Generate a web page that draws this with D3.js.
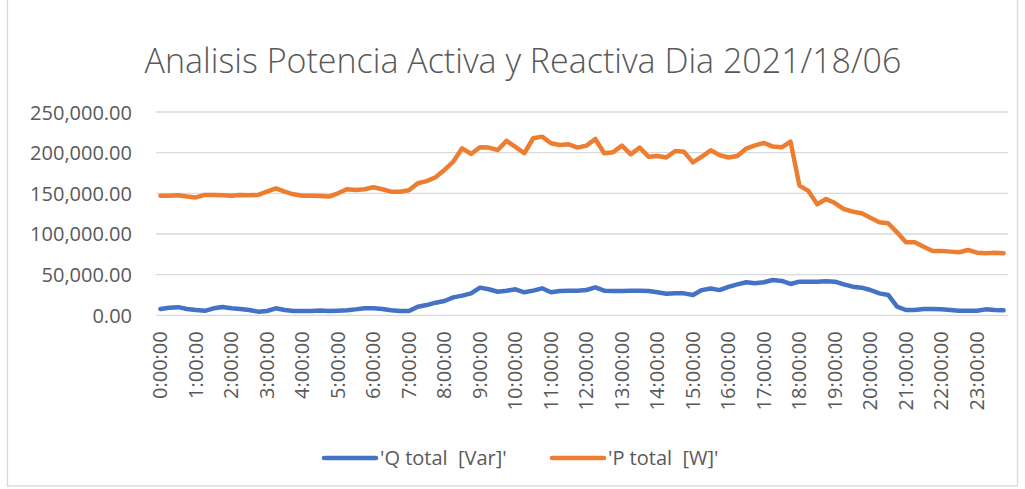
<!DOCTYPE html>
<html>
<head>
<meta charset="utf-8">
<script src="https://cdn.jsdelivr.net/npm/d3@7"></script>
<style>
    html, body { margin: 0; padding: 0; background: #ffffff; }
    svg text { font-family: "Open Sans", "Segoe UI", sans-serif; fill: #595959; white-space: pre; }
</style>
</head>
<body>
<div id="chart"></div>
<script>
// ============================================================
// Data (15 min readings)
// ============================================================
var chartTitle = "Analisis Potencia Activa y Reactiva Dia 2021/18/06";

var tickLabels = ["0:00:00", "1:00:00", "2:00:00", "3:00:00", "4:00:00", "5:00:00",
    "6:00:00", "7:00:00", "8:00:00", "9:00:00", "10:00:00", "11:00:00",
    "12:00:00", "13:00:00", "14:00:00", "15:00:00", "16:00:00", "17:00:00",
    "18:00:00", "19:00:00", "20:00:00", "21:00:00", "22:00:00", "23:00:00"];

var quarters = ["00", "15", "30", "45"];

var yTicks = [0, 50000, 100000, 150000, 200000, 250000];

var qTotal = [
    7800, 9400, 10000, 7800, 6500, 5500, 8600, 10200, 8600, 7800, 6500, 4500,
    5300, 8600, 6500, 5300, 5300, 5300, 6000, 5300, 5700, 6100, 7300, 8600,
    8600, 7800, 6100, 5300, 5300, 10600, 12600, 15500, 17600, 22000, 24200, 27000,
    34000, 32000, 29000, 30300, 32000, 28300, 30300, 33200, 28300, 29900, 30300, 30300,
    31100, 34400, 30300, 29900, 29900, 30300, 30300, 29900, 28300, 26600, 27000, 27000,
    25000, 31000, 33000, 31000, 35000, 38000, 40600, 39400, 40600, 43400, 42200, 38500,
    41400, 41400, 41400, 42000, 41400, 38100, 35200, 34000, 31100, 27000, 25000, 10600,
    6500, 6500, 7800, 7800, 7300, 6500, 5700, 5700, 5700, 7300, 6500, 6100
];

var pTotal = [
    147000, 147000, 147500, 146000, 145000, 148000, 148000, 147500, 147000, 148000, 147500, 148000,
    152000, 156000, 152000, 148800, 147000, 147000, 146700, 146000, 150000, 155000, 154000, 155000,
    157500, 155000, 152000, 152000, 153700, 162400, 165000, 169700, 178700, 189000, 205400, 198400,
    206600, 206200, 203300, 214400, 207000, 199300, 217700, 219700, 211600, 209500, 210300, 206200,
    208600, 216800, 199300, 200500, 208600, 198000, 206200, 195000, 196000, 194000, 202000, 201000,
    188000, 195000, 203000, 197000, 194000, 196000, 205000, 209000, 212000, 207500, 206600, 213600,
    159500, 153000, 136500, 143000, 138000, 130700, 127500, 125400, 120000, 114400, 113200, 102000,
    89800, 89800, 84400, 79000, 79000, 78300, 77500, 80300, 77000, 76300, 77000, 76300
];

var seriesNames = ["'Q total  [Var]'", "'P total  [W]'"];
var seriesColors = ["#4472C4", "#ED7D31"];

// category labels built from the hour labels
var times = [];
tickLabels.forEach(function (h) {
    var hh = h.split(":")[0];
    quarters.forEach(function (q) { times.push(hh + ":" + q + ":00"); });
});

// ============================================================
// Layout
// ============================================================
var iWidth = 1025, iHeight = 489;
var plot = { left: 156, right: 1008, top: 112, bottom: 315.3 };

var svg = d3.select("#chart").append("svg")
    .attr("width", iWidth)
    .attr("height", iHeight);

svg.append("rect")
    .attr("x", 7.5).attr("y", -2)
    .attr("width", 1010).attr("height", 488)
    .style("fill", "#ffffff")
    .style("stroke", "#d9d9d9")
    .style("stroke-width", 1.3);

var x = d3.scaleBand()
    .domain(times)
    .range([plot.left, plot.right]);

var y = d3.scaleLinear()
    .domain([0, 250000])
    .range([plot.bottom, plot.top]);

// title
svg.append("text")
    .attr("x", 523)
    .attr("y", 73)
    .attr("text-anchor", "middle")
    .style("font-size", "34px")
    .style("font-weight", 300)
    .text(chartTitle);

// gridlines
svg.append("g")
    .selectAll("line")
    .data(yTicks)
    .enter()
    .append("line")
    .attr("x1", plot.left)
    .attr("x2", plot.right)
    .attr("y1", function (d) { return y(d); })
    .attr("y2", function (d) { return y(d); })
    .style("stroke", "#d9d9d9")
    .style("stroke-width", 1.3);

// y axis
var yAxis = d3.axisLeft(y)
    .tickValues(yTicks)
    .tickSize(0)
    .tickPadding(0)
    .tickFormat(d3.format(",.2f"));

var gy = svg.append("g")
    .attr("transform", "translate(132,0)")
    .call(yAxis);
gy.select(".domain").remove();
gy.selectAll("text")
    .attr("dy", "0.35em")
    .style("font-size", "20px")
    .style("font-family", null);

// x axis (one label per hour)
var xAxis = d3.axisBottom(x)
    .tickValues(times.filter(function (d) { return tickLabels.indexOf(d) >= 0; }))
    .tickSize(0)
    .tickPadding(0);

var gx = svg.append("g")
    .attr("transform", "translate(0," + plot.bottom + ")")
    .call(xAxis);
gx.select(".domain").remove();
gx.selectAll("text")
    .attr("transform", "rotate(-90)")
    .attr("x", -16)
    .attr("y", 0)
    .attr("dy", "0.35em")
    .style("text-anchor", "end")
    .style("font-size", "20px")
    .style("font-family", null);

// lines
var line = d3.line()
    .x(function (d, i) { return x(times[i]) + x.bandwidth() / 2; })
    .y(function (d) { return y(d); });

[qTotal, pTotal].forEach(function (s, k) {
    svg.append("path")
        .datum(s)
        .attr("d", line)
        .style("fill", "none")
        .style("stroke", seriesColors[k])
        .style("stroke-width", 4.5)
        .style("stroke-linejoin", "round")
        .style("stroke-linecap", "round");
});

// legend
var legendItems = [
    { name: seriesNames[0], color: seriesColors[0], x1: 324, x2: 376 },
    { name: seriesNames[1], color: seriesColors[1], x1: 552, x2: 604 }
];
var legendY = 458;
var lg = svg.append("g").selectAll("g")
    .data(legendItems)
    .enter()
    .append("g");
lg.append("line")
    .attr("x1", function (d) { return d.x1; })
    .attr("x2", function (d) { return d.x2; })
    .attr("y1", legendY)
    .attr("y2", legendY)
    .style("stroke", function (d) { return d.color; })
    .style("stroke-width", 4.5)
    .style("stroke-linecap", "round");
lg.append("text")
    .attr("x", function (d) { return d.x2 + 4; })
    .attr("y", legendY)
    .attr("dy", "0.35em")
    .style("font-size", "20px")
    .text(function (d) { return d.name; });
</script>
</body>
</html>
